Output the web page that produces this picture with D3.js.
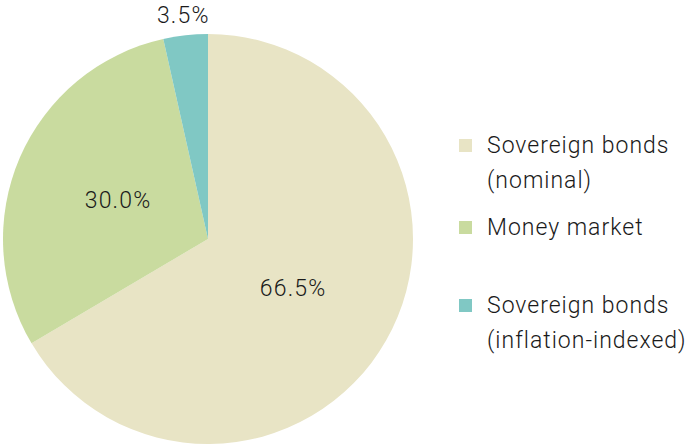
<!DOCTYPE html>
<html>
<head>
<meta charset="utf-8">
<script src="https://cdn.jsdelivr.net/npm/d3@7"></script>
<style>
  body { margin: 0; background: #fff; }
  text { font-family: Roboto, sans-serif; font-weight: 300; fill: #1a1a1a; }
</style>
</head>
<body>
<svg></svg>
<script>
let width = 688;
let height = 444;

let categories = ['Sovereign bonds (nominal)', 'Money market', 'Sovereign bonds (inflation-indexed)'];
let legendLines = [['Sovereign bonds', '(nominal)'], ['Money market'], ['Sovereign bonds', '(inflation-indexed)']];
let values = [66.5, 30.0, 3.5];
let colors = ['#e8e4c5', '#c9db9f', '#80c8c4'];

let cx = 208;
let cy = 239;
let radius = 205;

let svg = d3.select('svg')
            .attr('width', width)
            .attr('height', height);

let pie = d3.pie().sort(null).value(d => d.value);
let arcs = pie(categories.map((c, i) => ({ name: c, value: values[i], color: colors[i] })));

let arc = d3.arc().innerRadius(0).outerRadius(radius);
let labelArc = d3.arc().innerRadius(98).outerRadius(98);
let outerLabelArc = d3.arc().innerRadius(225).outerRadius(225);

let g = svg.append('g')
           .attr('transform', `translate(${cx}, ${cy})`);

g.selectAll('path')
  .data(arcs)
  .enter()
  .append('path')
    .attr('d', arc)
    .attr('fill', d => d.data.color);

g.selectAll('.label')
  .data(arcs)
  .enter()
  .append('text')
    .classed('label', true)
    .attr('transform', d => `translate(${(d.data.value < 10 ? outerLabelArc : labelArc).centroid(d)})`)
    .attr('text-anchor', 'middle')
    .attr('dy', '0.35em')
    .style('font-size', '23px')
    .style('letter-spacing', '1.2px')
    .text(d => d.data.value.toFixed(1) + '%');

// legend
let legendY = [145, 227, 305];
let legend = svg.append('g')
                .attr('transform', 'translate(459, 0)');

let items = legend.selectAll('.item')
  .data(categories)
  .enter()
  .append('g')
    .classed('item', true)
    .attr('transform', (d, i) => `translate(0, ${legendY[i]})`);

items.append('rect')
  .attr('x', 0)
  .attr('y', -6)
  .attr('width', 13)
  .attr('height', 13)
  .attr('fill', (d, i) => colors[i]);

items.append('text')
  .attr('x', 28)
  .style('font-size', '23px')
  .style('letter-spacing', '1px')
  .selectAll('tspan')
  .data((d, i) => legendLines[i])
  .enter()
  .append('tspan')
    .attr('x', 28)
    .attr('y', (d, j) => j * 35)
    .attr('dy', '0.35em')
    .text(d => d);
</script>
</body>
</html>
